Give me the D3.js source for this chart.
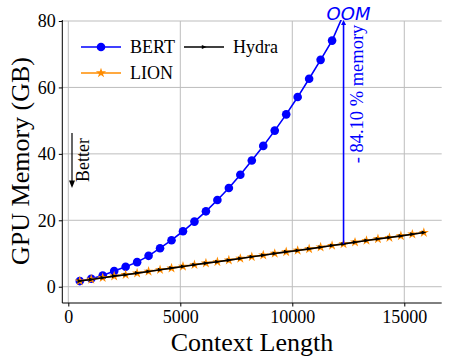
<!DOCTYPE html>
<html><head><meta charset="utf-8">
<script src="https://cdn.jsdelivr.net/npm/d3@7"></script>
<style>body{margin:0;background:#fff}svg{display:block}</style>
</head><body><svg id="c" width="449" height="364"></svg>
<script>
const contextLengths = [512,1024,1536,2048,2560,3072,3584,4096,4608,5120,5632,6144,6656,7168,7680,8192,8704,9216,9728,10240,10752,11264,11776,12288,12800,13312,13824,14336,14848,15360,15872];
const bertValues = [1.7,2.4,3.4,4.7,6.0,7.4,9.3,11.6,14.0,16.7,19.6,22.7,26.1,29.7,33.7,38.0,42.4,47.0,51.9,57.1,62.6,68.3,74.1];
const bertOOM = {x:12288, y:82};
const lionValues = [1.7,2.2,2.7,3.2,3.6,4.1,4.6,5.1,5.6,6.1,6.6,7.1,7.5,8.0,8.5,9.0,9.5,10.0,10.5,10.9,11.4,11.9,12.4,12.9,13.4,13.9,14.4,14.8,15.3,15.8,16.3];
const hydraValues = [1.7,2.2,2.7,3.2,3.6,4.1,4.6,5.1,5.6,6.1,6.6,7.1,7.5,8.0,8.5,9.0,9.5,10.0,10.5,10.9,11.4,11.9,12.4,12.9,13.4,13.9,14.4,14.8,15.3,15.8,16.3];
const xTicks = [0,5000,10000,15000];
const yTicks = [0,20,40,60,80];
const annotationText = "- 84.10 % memory";

const svg = d3.select("#c");
const L=62.3, R=441.7, T=21, B=303;
const x = d3.scaleLinear().domain([-268,16670]).range([L,R]);
const y = d3.scaleLinear().domain([-4.9,80]).range([B,T]);
const serif = "'Liberation Serif','Times New Roman',serif";

// grid
svg.append("g").selectAll("line").data(xTicks).join("line")
  .attr("x1",d=>x(d)).attr("x2",d=>x(d)).attr("y1",T).attr("y2",B)
  .attr("stroke","#bdbdbd").attr("stroke-width",1);
svg.append("g").selectAll("line").data(yTicks).join("line")
  .attr("x1",L).attr("x2",R).attr("y1",d=>y(d)).attr("y2",d=>y(d))
  .attr("stroke","#bdbdbd").attr("stroke-width",1);

// axes
const xAxis = svg.append("g").attr("transform",`translate(0,${B})`)
  .call(d3.axisBottom(x).tickValues(xTicks).tickSize(3.5).tickPadding(4).tickFormat(d3.format("d")));
const yAxis = svg.append("g").attr("transform",`translate(${L},0)`)
  .call(d3.axisLeft(y).tickValues(yTicks).tickSize(3.5).tickPadding(3));
[xAxis,yAxis].forEach(a=>{
  a.attr("font-family",null).attr("font-size",null);
  a.select(".domain").attr("stroke","#000").attr("stroke-width",1);
  a.selectAll(".tick line").attr("stroke","#000");
  a.selectAll("text").style("font-family",serif).style("font-size","18px").attr("fill","#000");
});
yAxis.select(".domain").attr("d",`M0,${B}V${T-1}`);
xAxis.select(".domain").attr("d",`M${L},0H${R}`);

// clip
svg.append("clipPath").attr("id","clip").append("rect").attr("x",L).attr("y",T-1).attr("width",R-L).attr("height",B-T+1);

const bertPts = bertValues.map((v,i)=>({x:contextLengths[i],y:v}));
const lionPts = lionValues.map((v,i)=>({x:contextLengths[i],y:v}));
const hydraPts = hydraValues.map((v,i)=>({x:contextLengths[i],y:v}));
const line = d3.line().x(d=>x(d.x)).y(d=>y(d.y));

const g = svg.append("g").attr("clip-path","url(#clip)");
// BERT
g.append("path").attr("d",line(bertPts.concat([bertOOM]))).attr("fill","none").attr("stroke","#0000ff").attr("stroke-width",1.6);
g.selectAll(".bc").data(bertPts).join("circle").attr("cx",d=>x(d.x)).attr("cy",d=>y(d.y)).attr("r",4.3).attr("fill","#0000ff");
// LION
g.append("path").attr("d",line(lionPts)).attr("fill","none").attr("stroke","#ff8c00").attr("stroke-width",1.6);
const star = d3.symbol().type(d3.symbolStar).size(32);
g.selectAll(".ls").data(lionPts).join("path").attr("d",star).attr("transform",d=>`translate(${x(d.x)},${y(d.y)})`).attr("fill","#ff8c00");
// Hydra
g.append("path").attr("d",line(hydraPts)).attr("fill","none").attr("stroke","#000").attr("stroke-width",1.6);
const tri = "M-2.2,-2L2.6,0L-2.2,2Z";
g.selectAll(".hm").data(hydraPts).join("path").attr("d",tri).attr("transform",d=>`translate(${x(d.x)},${y(d.y)})`).attr("fill","#000");

// annotation arrow
const ax = x(12288), ay0 = y(lionValues[23]), ay1 = y(80);
svg.append("line").attr("x1",ax).attr("x2",ax).attr("y1",ay0).attr("y2",ay1+2).attr("stroke","#0000ff").attr("stroke-width",1.6);
svg.append("path").attr("d",`M${ax-2.5},${ay1+4}L${ax},${ay1-1}L${ax+2.5},${ay1+4}Z`).attr("fill","#0000ff");
svg.append("text").attr("x",ax+5).attr("y",20).attr("text-anchor","middle")
  .style("font-family","'DejaVu Sans',sans-serif").style("font-style","italic").style("font-size","18px").attr("fill","#0000ff").text("OOM");
svg.append("text").attr("transform",`translate(${ax+19},${94}) rotate(-90)`).attr("text-anchor","middle")
  .style("font-family",serif).style("font-size","18.5px").attr("fill","#0000ff").text(annotationText);

// Better arrow
svg.append("line").attr("x1",72).attr("x2",72).attr("y1",133).attr("y2",182).attr("stroke","#000").attr("stroke-width",1.2);
svg.append("path").attr("d","M69,180.5L72,188L75,180.5Z").attr("fill","#000");
svg.append("text").attr("transform","translate(88.5,160) rotate(-90)").attr("text-anchor","middle")
  .style("font-family",serif).style("font-size","18px").attr("fill","#000").text("Better");

// legend
const leg = svg.append("g");
const items = [
  {name:"BERT",x:81,y:47,color:"#0000ff",m:"circle"},
  {name:"Hydra",x:184,y:47,color:"#000",m:"tri"},
  {name:"LION",x:81,y:73,color:"#ff8c00",m:"star"}];
items.forEach(it=>{
  leg.append("line").attr("x1",it.x).attr("x2",it.x+40).attr("y1",it.y).attr("y2",it.y).attr("stroke",it.color).attr("stroke-width",1.6);
  const cx = it.x+20;
  if(it.m==="circle") leg.append("circle").attr("cx",cx).attr("cy",it.y).attr("r",4.3).attr("fill",it.color);
  if(it.m==="star") leg.append("path").attr("d",star).attr("transform",`translate(${cx},${it.y})`).attr("fill",it.color);
  if(it.m==="tri") leg.append("path").attr("d",tri).attr("transform",`translate(${cx},${it.y})`).attr("fill",it.color);
  leg.append("text").attr("x",it.x+49).attr("y",it.y+6)
    .style("font-family",serif).style("font-size","18px").attr("fill","#000").text(it.name);
});

// axis titles
svg.append("text").attr("x",252).attr("y",351).attr("text-anchor","middle").style("font-family",serif).style("font-size","26px").attr("fill","#000").text("Context Length");
svg.append("text").attr("transform","translate(29,161) rotate(-90)").attr("text-anchor","middle").style("font-family",serif).style("font-size","26px").attr("fill","#000").text("GPU Memory (GB)");
</script></body></html>
